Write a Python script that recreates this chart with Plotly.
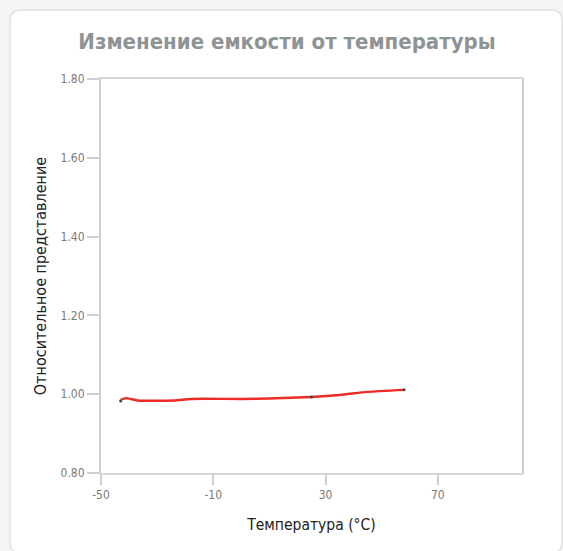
import plotly.graph_objects as go

# Courbe de capacité relative en fonction de la température
temperature = [-43, -41, -37, -24, -18, 0, 10, 25, 35, 45, 58]
valeur_rel = [0.986, 0.990, 0.984, 0.984, 0.988, 0.988, 0.989, 0.993, 0.998, 1.006, 1.011]

# points mesurés (petits points sombres)
temp_points = [-43, 25, 58]
val_points = [0.983, 0.993, 1.011]

x_ticks = [-50, -10, 30, 70]
y_ticks = [0.80, 1.00, 1.20, 1.40, 1.60, 1.80]

W, H = 563, 551
L, R, T, B = 101, 41, 79, 78
pw, ph = W - L - R, H - T - B

def px_x(v):
    return (v - L) / pw

def px_y(v):
    return (H - B - v) / ph

narrow = "DejaVu Sans Condensed, Liberation Sans Narrow, sans-serif"

fig = go.Figure()
fig.add_trace(go.Scatter(x=temperature, y=valeur_rel, mode="lines",
                         line=dict(color="#ee2b25", width=2.4, shape="spline", smoothing=0.6),
                         hoverinfo="skip"))
fig.add_trace(go.Scatter(x=temp_points, y=val_points, mode="markers",
                         marker=dict(color="#444444", size=3), hoverinfo="skip"))

# carte blanche à coins arrondis
x0, x1, y0, y1 = px_x(10), px_x(562), px_y(553), px_y(10)
rx, ry = 11 / pw, 11 / ph
path = (f"M {x0+rx},{y1} L {x1-rx},{y1} Q {x1},{y1} {x1},{y1-ry} "
        f"L {x1},{y0+ry} Q {x1},{y0} {x1-rx},{y0} L {x0+rx},{y0} Q {x0},{y0} {x0},{y0+ry} "
        f"L {x0},{y1-ry} Q {x0},{y1} {x0+rx},{y1} Z")
fig.add_shape(type="path", path=path, xref="paper", yref="paper", layer="below",
              fillcolor="white", line=dict(color="#e2e2e2", width=1.5))

fig.update_layout(
    width=W, height=H,
    margin=dict(l=L, r=R, t=T, b=B),
    paper_bgcolor="#f4f4f4", plot_bgcolor="white",
    showlegend=False,
    title=dict(text="<b>Изменение емкости от температуры</b>", x=287 / W, xanchor="center",
               y=1 - 41 / H, yanchor="middle",
               font=dict(family=narrow, size=22, color="#8e9494")),
    xaxis=dict(range=[-50, 100], tickvals=x_ticks, ticktext=[str(v) for v in x_ticks],
               showgrid=False, zeroline=False, showline=True, mirror=True,
               linecolor="#d6d6d6", linewidth=2, ticks="outside", ticklen=10,
               tickcolor="#d0d0d0", tickwidth=1.5,
               tickfont=dict(family=narrow, size=12, color="#7a7a7a"),
               title=dict(text="Температура (°C)", standoff=18,
                          font=dict(family=narrow, size=15.5, color="#222222"))),
    yaxis=dict(range=[0.8, 1.8], tickvals=y_ticks, ticktext=[f"{v:.2f}" for v in y_ticks],
               showgrid=False, zeroline=False, showline=True, mirror=True,
               linecolor="#cfcfcf", linewidth=2, ticks="outside", ticklen=12,
               tickcolor="#d0d0d0", tickwidth=1.5,
               tickfont=dict(family=narrow, size=12, color="#7a7a7a"),
               title=dict(text="Относительное представление", standoff=10,
                          font=dict(family=narrow, size=16, color="#222222"))),
)

# pas de marge autour du graphique dans la page, pas de barre d'outils
fig.write_html("out.html", config={"displayModeBar": False},
               post_script="document.body.style.margin='0';")
